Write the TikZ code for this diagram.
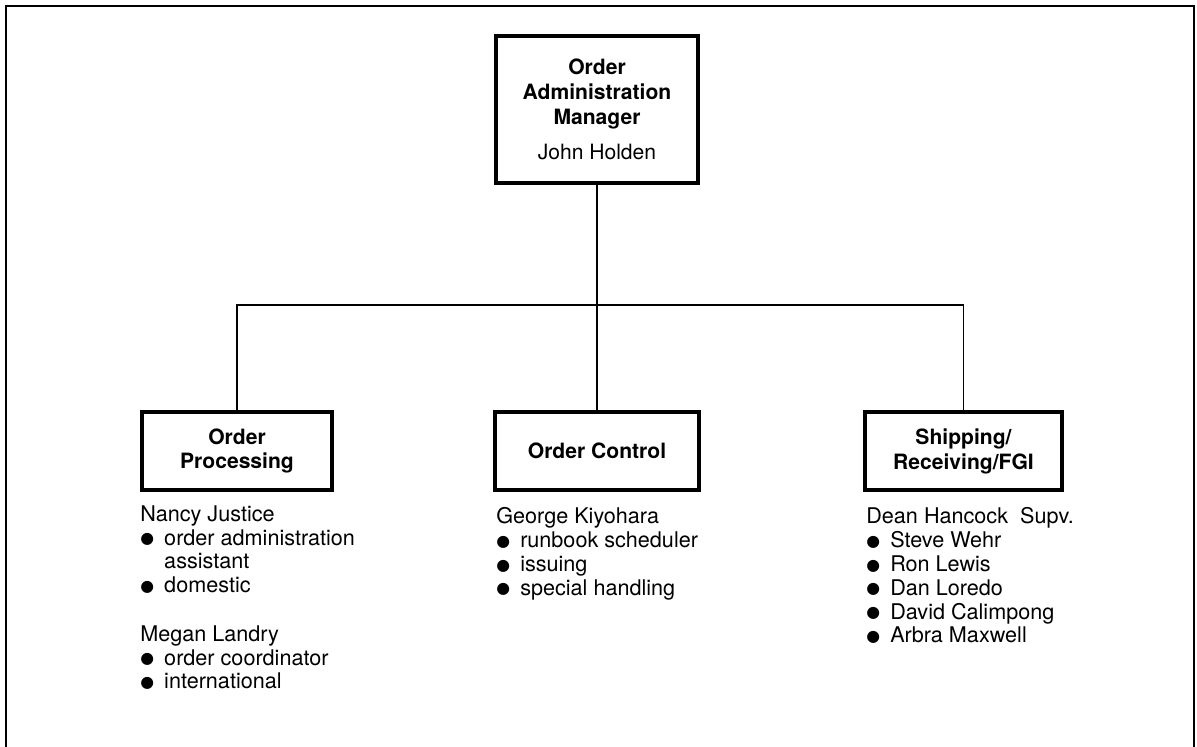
\documentclass[tikz,border=0pt]{standalone}
\usepackage{fontspec}
\setmainfont{TeX Gyre Heros}
\newfontfamily\bulfont{DejaVu Sans}
\usetikzlibrary{positioning}
\newcommand{\itm}[1]{\makebox[13.6pt][l]{\raisebox{0.7pt}{\bulfont\fontsize{9}{9}\selectfont ●}}#1}
\newcommand{\hang}{\hspace*{13.6pt}}
\tikzset{
unit/.style = {rectangle, draw=black, line width=2.4pt, minimum width=3.8cm, minimum height=1.56cm, align=center, font=\fontsize{12}{14.2}\selectfont\bfseries, inner sep=0pt},
staff/.style = {anchor=north west, align=left, inner sep=0pt, font=\fontsize{12.3}{13.6}\selectfont},
link/.style = {line width=0.9pt},
frame/.style = {line width=1.6pt}
}

\begin{document}
\begin{tikzpicture}[x=0.02cm, y=-0.02cm]
\useasboundingbox (0,0) rectangle (1197,747);
\draw [frame] (6,752) -- (6,6) -- (1194,6) -- (1194,752);

% manager on top
\node (mgr) [unit, minimum width=4.04cm, minimum height=2.94cm] at (597,109.5) {Order\\Administration\\Manager\\[5.6pt]\mdseries John Holden};

% the three sections
\node (proc) [unit] at (237,451) {Order\\Processing};
\node (ctrl) [unit, minimum width=4.08cm] at (597,451) {Order Control};
\node (ship) [unit, minimum width=3.94cm] at (963.5,451) {Shipping/\\Receiving/FGI};

\coordinate (bus) at (597,305);
\draw [link] (mgr) -- (ctrl);
\draw [link] (proc.north) |- (bus) -| (ship.north);

% staff lists
\node (nancy) [staff] at (140,505) {Nancy Justice\\\itm{order administration}\\\hang assistant\\\itm{domestic}};
\node (megan) [staff] at (140,625) {Megan Landry\\\itm{order coordinator}\\\itm{international}};
\node (george) [staff] at (496,507) {George Kiyohara\\\itm{runbook scheduler}\\\itm{issuing}\\\itm{special handling}};
\node (dean) [staff] at (866,507) {Dean Hancock\ \ Supv.\\\itm{Steve Wehr}\\\itm{Ron Lewis}\\\itm{Dan Loredo}\\\itm{David Calimpong}\\\itm{Arbra Maxwell}};

\end{tikzpicture}
\end{document}
